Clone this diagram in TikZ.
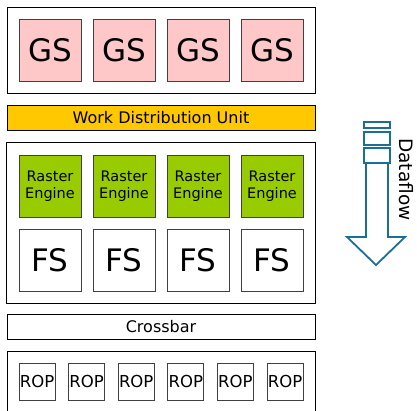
\documentclass[tikz,border=0pt]{standalone}
\usepackage{fontspec}
\setmainfont{DejaVu Sans}
\usepackage{tikz}
\usetikzlibrary{positioning,fit}
\definecolor{gspink}{RGB}{255,200,200}
\definecolor{wdugold}{RGB}{255,200,0}
\definecolor{rastergreen}{RGB}{153,204,0}
\definecolor{flowblue}{RGB}{26,111,151}
\tikzset{
    unit/.style = {draw=black!75, line width=0.8pt, minimum width=62pt, minimum height=62pt,
                 inner sep=0pt, outer sep=0pt, align=center},
    bigtext/.style = {font=\fontsize{31}{31}\selectfont},
    group/.style = {draw, line width=0.8pt, inner sep=12pt},
    bar/.style = {draw, line width=0.8pt, minimum width=308pt, minimum height=25pt,
                 inner sep=0pt, font=\fontsize{16}{16}\selectfont},
    rop/.style = {draw=black!75, line width=0.8pt, minimum width=36pt, minimum height=37pt,
                 inner sep=0pt, outer sep=0pt, font=\fontsize{16.5}{16.5}\selectfont},
}
\begin{document}
\begin{tikzpicture}[x=1pt,y=1pt]
\useasboundingbox (0,0) rectangle (417,-411);
% geometry shaders
 \node (gs1) [unit,bigtext,fill=gspink] at (50,-50) {GS};
 \node (gs2) [unit,bigtext,fill=gspink,right=12pt of gs1] {GS};
 \node (gs3) [unit,bigtext,fill=gspink,right=12pt of gs2] {GS};
 \node (gs4) [unit,bigtext,fill=gspink,right=12pt of gs3] {GS};
 \node (gsgroup) [group,fit=(gs1)(gs4)] {};
 \node (wdu) [bar,fill=wdugold,below=11.5pt of gsgroup] {Work Distribution Unit};
% raster engines and fragment shaders
 \node (ras1) [unit,fill=rastergreen,font=\fontsize{14.5}{17}\selectfont,below=74pt of gs1] {Raster\\Engine};
 \node (ras2) [unit,fill=rastergreen,font=\fontsize{14.5}{17}\selectfont,right=12pt of ras1] {Raster\\Engine};
 \node (ras3) [unit,fill=rastergreen,font=\fontsize{14.5}{17}\selectfont,right=12pt of ras2] {Raster\\Engine};
 \node (ras4) [unit,fill=rastergreen,font=\fontsize{14.5}{17}\selectfont,right=12pt of ras3] {Raster\\Engine};
 \node (fs1) [unit,bigtext,below=12pt of ras1] {FS};
 \node (fs2) [unit,bigtext,right=12pt of fs1] {FS};
 \node (fs3) [unit,bigtext,right=12pt of fs2] {FS};
 \node (fs4) [unit,bigtext,right=12pt of fs3] {FS};
 \node (midgroup) [group,inner sep=12.5pt,fit=(ras1)(fs4)] {};
 \node (xbar) [bar,below=10pt of midgroup] {Crossbar};
% raster operation units
 \node (rop1) [rop] at (37,-381.5) {ROP};
 \node (rop2) [rop,right=13.6pt of rop1] {ROP};
 \node (rop3) [rop,right=13.6pt of rop2] {ROP};
 \node (rop4) [rop,right=13.6pt of rop3] {ROP};
 \node (rop5) [rop,right=13.6pt of rop4] {ROP};
 \node (rop6) [rop,right=13.6pt of rop5] {ROP};
 \node (ropgroup) [group,fit=(rop1)(rop6)] {};
% dataflow arrow
\begin{scope}[draw=flowblue,line width=1.8pt,line join=miter]
 \draw (364,-122) rectangle (390,-128);
 \draw (364,-132) rectangle (390,-145);
 \draw (364,-148) rectangle (390,-163);
 \draw (366,-163) -- (366,-237) -- (347,-237) -- (376,-265) -- (405,-237) -- (388,-237) -- (388,-163);
\end{scope}
 \node (flow) [rotate=-90,inner sep=0pt,font=\fontsize{18.5}{18.5}\selectfont] at (406,-179.5) {Dataflow};
\end{tikzpicture}
\end{document}
